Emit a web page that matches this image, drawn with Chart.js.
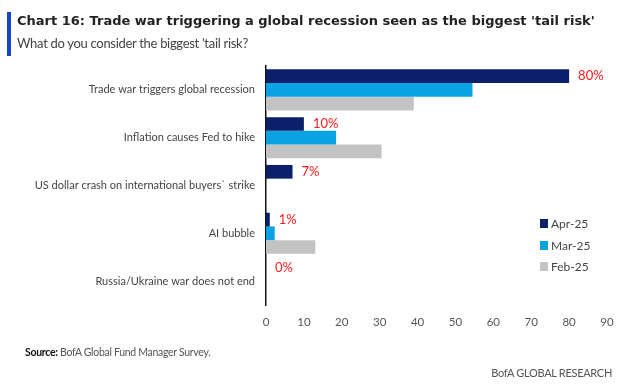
<!DOCTYPE html>
<html><head><meta charset="utf-8">
<script src="https://cdn.jsdelivr.net/npm/chart.js@4"></script>
<style>
html,body{margin:0;padding:0;background:#fff;}
#wrap{position:relative;width:642px;height:389px;overflow:hidden;font-family:Lato,"Open Sans",sans-serif;}
#bar{position:absolute;left:7px;top:12px;width:4px;height:44px;background:#1446c8;}
#title{position:absolute;left:17px;top:13px;font:bold 13px "DejaVu Sans",sans-serif;color:#222;white-space:nowrap;}
#sub{position:absolute;left:17px;top:35px;font:13px Lato,sans-serif;color:#444;white-space:nowrap;letter-spacing:-0.3px;}
#src{position:absolute;left:25px;top:346px;font:10.5px Lato,sans-serif;color:#555;white-space:nowrap;letter-spacing:-0.3px;}
#src b{color:#111;}
#brand{position:absolute;right:30px;top:366px;font:11px Lato,sans-serif;color:#555;white-space:nowrap;letter-spacing:-0.3px;}
#legend{position:absolute;left:540px;top:213px;font:12px Lato,sans-serif;color:#444;}
#legend div{height:21.5px;display:flex;align-items:center;}
#legend span{display:inline-block;width:8px;height:9px;margin-right:3px;}
canvas{position:absolute;left:0;top:0;}
</style></head>
<body><div id="wrap">
<canvas id="c" width="642" height="389"></canvas>
<div id="bar"></div>
<div id="title">Chart 16: Trade war triggering a global recession seen as the biggest 'tail risk'</div>
<div id="sub">What do you consider the biggest 'tail risk?</div>
<div id="legend"></div>
<div id="src"><b>Source:</b> BofA Global Fund Manager Survey.</div>
<div id="brand">BofA GLOBAL RESEARCH</div>
</div>
<script>
const categories = ["Trade war triggers global recession","Inflation causes Fed to hike","US dollar crash on international buyers` strike","AI bubble","Russia/Ukraine war does not end"];
const seriesNames = ["Apr-25","Mar-25","Feb-25"];
const apr25 = [80, 10, 7, 1, 0];
const mar25 = [54.5, 18.5, 0, 2.3, 0];
const feb25 = [39, 30.5, 0, 13, 0];
const xTicks = [0,10,20,30,40,50,60,70,80,90];
const aprLabels = ["80%","10%","7%","1%","0%"];
const colors = ["#0c1f6b","#0aa2e2","#c3c3c3"];

const lg = document.getElementById('legend');
seriesNames.forEach((n,i)=>{const d=document.createElement('div');d.innerHTML='<span style="background:'+colors[i]+'"></span>'+n;lg.appendChild(d);});

const labelPlugin = {
  id:'aprLabels',
  afterDatasetsDraw(chart){
    const ctx = chart.ctx; const meta = chart.getDatasetMeta(0);
    ctx.save(); ctx.fillStyle='#ff1a1a'; ctx.font='13px Lato, sans-serif';
    ctx.textBaseline='middle'; ctx.textAlign='left';
    meta.data.forEach((b,i)=>{ ctx.fillText(aprLabels[i], b.x+9, b.y); });
    ctx.restore();
  }
};

new Chart(document.getElementById('c'), {
  type:'bar',
  data:{labels:categories, datasets:[
    {label:seriesNames[0], data:apr25, backgroundColor:colors[0]},
    {label:seriesNames[1], data:mar25, backgroundColor:colors[1]},
    {label:seriesNames[2], data:feb25, backgroundColor:colors[2]}
  ]},
  options:{
    indexAxis:'y', responsive:false, animation:false,
    layout:{padding:{top:66,right:35,bottom:54,left:0}},
    datasets:{bar:{categoryPercentage:0.86,barPercentage:1.0}},
    plugins:{legend:{display:false},tooltip:{enabled:false}},
    scales:{
      x:{min:0,max:90,
        afterBuildTicks(s){s.ticks=xTicks.map(v=>({value:v}));},
        grid:{display:false,drawTicks:false},border:{display:false},
        ticks:{color:'#555',font:{family:'Lato',size:11.5},padding:10},
        afterFit(s){s.height=30;}
      },
      y:{grid:{display:false,drawTicks:false},
        border:{display:true,color:'#111',width:1.5},
        ticks:{color:'#444',font:{family:'Lato',size:11},padding:11},
        afterFit(s){s.width=266;}
      }
    }
  },
  plugins:[labelPlugin]
});
</script>
</body></html>
